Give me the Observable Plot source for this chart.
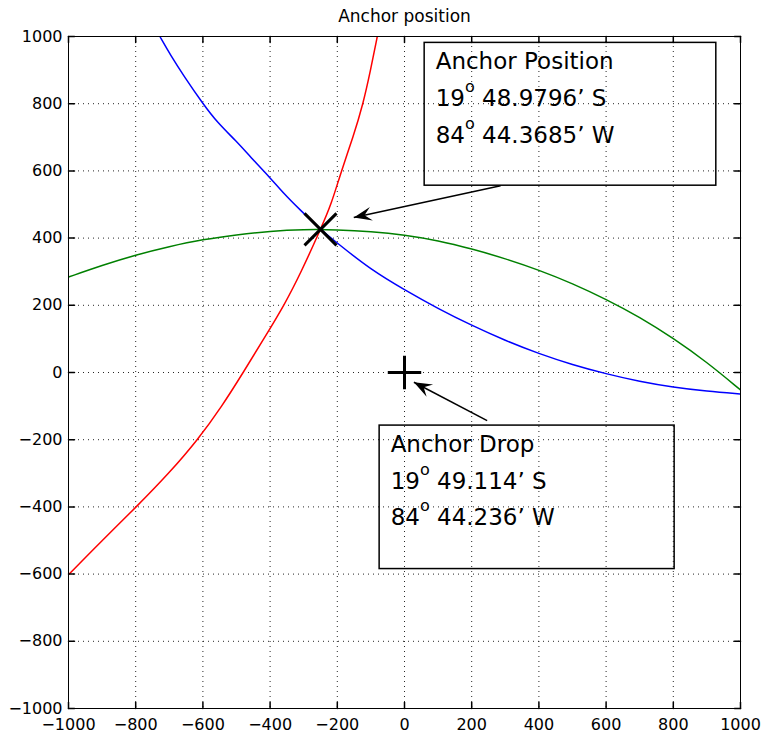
<!DOCTYPE html>
<html>
<head>
<meta charset="utf-8">
<script src="https://cdn.jsdelivr.net/npm/d3@7"></script>
<script src="https://cdn.jsdelivr.net/npm/@observablehq/plot@0.6"></script>
<style>
  body { margin: 0; background: #fff; }
  svg { display: block; }
</style>
</head>
<body>
<div id="chart"></div>
<script>
// ---- data ----
const title = "Anchor position";
const ticks = [-1000, -800, -600, -400, -200, 0, 200, 400, 600, 800, 1000];

const blueX = [-728, -696, -657, -600, -557, -500, -458, -400, -359, -310, -250, -200, -100, 0, 100, 200, 300, 400, 500, 600, 700, 800, 900, 1000];
const blueY = [1000, 944, 883, 800, 744, 688, 641, 580, 532, 483, 426, 385, 306, 246, 190, 140, 95, 56, 23, -4, -27, -44, -56, -64];

const redX = [-998, -900, -798, -701, -615, -543, -480, -419, -358, -307, -250, -218, -188, -153, -123, -101, -81];
const redY = [-600, -500, -400, -300, -200, -100, 0, 100, 200, 300, 426, 500, 600, 700, 800, 900, 1000];

const greenX = [-1000, -900, -800, -700, -600, -500, -400, -300, -200, -100, 0, 100, 200, 300, 400, 500, 600, 700, 800, 900, 1000];
const greenY = [284, 319, 350, 375, 396, 410, 421, 426, 425, 420, 410, 393, 368, 339, 305, 265, 218, 165, 102, 31, -52];

const markerNames = ["Anchor Position", "Anchor Drop"];
const markerX = [-250, 0];
const markerY = [426, 0];

const boxLines = [
  ["Anchor Position", "19^o 48.9796’ S", "84^o 44.3685’ W"],
  ["Anchor Drop", "19^o 49.114’ S", "84^o 44.236’ W"]
];
const boxX1 = [60, -74];
const boxX2 = [928, 804];
const boxY1 = [556, -585];
const boxY2 = [981, -158];

const arrowX1 = [286, 246];
const arrowY1 = [556, -143];
const arrowX2 = [-151, 28];
const arrowY2 = [461, -29];

// ---- derived tables ----
const pts = (xs, ys) => xs.map((x, i) => ({x, y: ys[i]}));
const idx = [0, 1];
const fmt = d3.format("d");

const tickShape = {draw(ctx, l) { ctx.moveTo(0, 0); ctx.lineTo(0, -l); }};
const headShape = {draw(ctx) {
  ctx.moveTo(0, 0); ctx.lineTo(-18, -7); ctx.lineTo(-11, 0); ctx.lineTo(-18, 7); ctx.closePath();
}};
const arrowAngle = i => Math.atan2(-(arrowY2[i] - arrowY1[i]), arrowX2[i] - arrowX1[i]) * 180 / Math.PI;

const gridStyle = {stroke: "#000", strokeOpacity: 0.85, strokeWidth: 1, strokeDasharray: "1,4"};

const chart = Plot.plot({
  width: 763,
  height: 736,
  marginLeft: 68,
  marginRight: 23,
  marginTop: 36,
  marginBottom: 28,
  style: {fontFamily: "DejaVu Sans, sans-serif", fontSize: "16px", background: "#fff", color: "#000"},
  x: {domain: [-1000, 1000], label: null},
  y: {domain: [-1000, 1000], label: null},
  marks: [
    Plot.gridX(ticks, gridStyle),
    Plot.gridY(ticks, gridStyle),
    Plot.line(pts(greenX, greenY), {x: "x", y: "y", stroke: "#008000", strokeWidth: 1.5, curve: "basis", clip: true}),
    Plot.line(pts(blueX, blueY), {x: "x", y: "y", stroke: "#0000ff", strokeWidth: 1.5, curve: "basis", clip: true}),
    Plot.line(pts(redX, redY), {x: "x", y: "y", stroke: "#ff0000", strokeWidth: 1.5, curve: "basis", clip: true}),
    Plot.dot([0], {x: i => markerX[i], y: i => markerY[i], symbol: "times", r: 14.6, stroke: "#000", strokeWidth: 3, fill: "none"}),
    Plot.dot([1], {x: i => markerX[i], y: i => markerY[i], symbol: "plus", r: 10.8, stroke: "#000", strokeWidth: 3, fill: "none"}),
    Plot.rect(idx, {x1: i => boxX1[i], x2: i => boxX2[i], y1: i => boxY1[i], y2: i => boxY2[i], fill: "none", stroke: "#000", strokeWidth: 1.5}),
    Plot.text(idx, {x: i => boxX1[i], y: i => boxY2[i], text: i => boxLines[i].join("\n"), textAnchor: "start", lineAnchor: "top", dx: 11, dy: 0, fontSize: 23, lineHeight: 1.6, fill: "#000"}),
    Plot.link(idx, {x1: i => arrowX1[i], y1: i => arrowY1[i], x2: i => arrowX2[i], y2: i => arrowY2[i], stroke: "#000", strokeWidth: 1.5}),
    Plot.dot(idx, {x: i => arrowX2[i], y: i => arrowY2[i], symbol: headShape, rotate: arrowAngle, fill: "#000", stroke: "none"}),
    Plot.frame({stroke: "#000", strokeWidth: 1}),
    Plot.vector(ticks, {x: d => d, frameAnchor: "bottom", length: 6, rotate: 0, anchor: "start", shape: tickShape, stroke: "#000"}),
    Plot.vector(ticks, {x: d => d, frameAnchor: "top", length: 6, rotate: 180, anchor: "start", shape: tickShape, stroke: "#000"}),
    Plot.vector(ticks, {y: d => d, frameAnchor: "left", length: 6, rotate: 90, anchor: "start", shape: tickShape, stroke: "#000"}),
    Plot.vector(ticks, {y: d => d, frameAnchor: "right", length: 6, rotate: -90, anchor: "start", shape: tickShape, stroke: "#000"}),
    Plot.axisX(ticks, {anchor: "bottom", tickSize: 0, tickPadding: 10, tickFormat: fmt, label: null, fontSize: 16}),
    Plot.axisY(ticks, {anchor: "left", tickSize: 0, tickPadding: 6, tickFormat: fmt, label: null, fontSize: 16}),
    Plot.text([title], {frameAnchor: "top", lineAnchor: "bottom", dy: -14.5, fontSize: 17, fill: "#000"})
  ]
});

// superscript "o" (degree) rendering
const ns = "http://www.w3.org/2000/svg";
chart.querySelectorAll("text, tspan").forEach(node => {
  if (node.children.length === 0 && node.textContent.includes("^o")) {
    const [a, b] = node.textContent.split("^o");
    node.textContent = "";
    node.append(a);
    const sup = document.createElementNS(ns, "tspan");
    sup.setAttribute("dy", "-14");
    sup.setAttribute("font-size", "16");
    sup.textContent = "o";
    const rest = document.createElementNS(ns, "tspan");
    rest.setAttribute("dy", "14");
    rest.textContent = b;
    node.append(sup, rest);
  }
});

document.getElementById("chart").append(chart);
</script>
</body>
</html>
